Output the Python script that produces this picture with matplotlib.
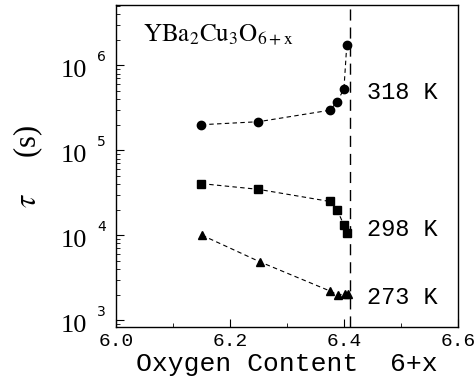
"""tau vs oxygen content for YBa2Cu3O6+x at three temperatures."""
import numpy as np
import matplotlib
matplotlib.use("Agg")
import matplotlib.pyplot as plt
from matplotlib.ticker import LogLocator, NullFormatter, MultipleLocator
import matplotlib.transforms as mtransforms

plt.rcParams["mathtext.fontset"] = "stix"

# 318 K (daireler)
x_318 = [6.15, 6.25, 6.375, 6.388, 6.40, 6.405]
tau_318 = [2.0e5, 2.17e5, 2.96e5, 3.7e5, 5.3e5, 1.75e6]
# 298 K (kareler)
x_298 = [6.15, 6.25, 6.375, 6.388, 6.40, 6.406]
tau_298 = [4.05e4, 3.47e4, 2.5e4, 2.0e4, 1.31e4, 1.05e4]
# 273 K (üçgenler)
x_273 = [6.151, 6.253, 6.376, 6.39, 6.402, 6.407]
tau_273 = [1.0e4, 4.85e3, 2.2e3, 1.97e3, 2.06e3, 2.05e3]

x_sinir = 6.41
etiketler = ["318 K", "298 K", "273 K"]
etiket_y = [4.8e5, 1.17e4, 1.86e3]
y_us = [3, 4, 5, 6]
x_ticks = [6.0, 6.2, 6.4, 6.6]

fig = plt.figure(figsize=(4.77, 3.85), dpi=100)
ax = fig.add_axes([0.2432, 0.1506, 0.7168, 0.8364])

for xs, ys, m in [(x_318, tau_318, "o"), (x_298, tau_298, "s"), (x_273, tau_273, "^")]:
    ax.plot(xs, ys, color="black", linestyle=(0, (4, 3)), linewidth=0.8,
            marker=m, markersize=6, markerfacecolor="black", markeredgecolor="black")

ax.axvline(x_sinir, color="black", linewidth=1.0, linestyle=(0, (8, 5)))

ax.set_yscale("log")
ax.set_xlim(6.0, 6.6)
ax.set_ylim(10 ** 2.92, 10 ** 6.71)

# Y ekseni: "10" + ayrı üs
ax.set_yticks([10.0 ** k for k in y_us])
ax.set_yticklabels(["10"] * len(y_us), family="Liberation Serif", fontsize=19)
for t in ax.get_yticklabels():
    t.set_va("top")
    t.set_y(0)
ax.yaxis.set_minor_locator(LogLocator(base=10, subs=np.arange(2, 10)))
ax.yaxis.set_minor_formatter(NullFormatter())
tr = mtransforms.blended_transform_factory(ax.transAxes, ax.transData)
for k in y_us:
    ax.text(-0.029, 10.0 ** (k + 0.02), str(k), transform=tr, ha="right", va="bottom",
            fontsize=10, family="DejaVu Sans")

ax.set_xticks(x_ticks)
ax.set_xticklabels([f"{v:.1f}" for v in x_ticks], family="Liberation Mono", fontsize=14)
ax.xaxis.set_minor_locator(MultipleLocator(0.1))

ax.tick_params(which="both", direction="in", top=False, right=False)
ax.tick_params(axis="y", which="major", length=6, pad=21)
ax.tick_params(axis="y", which="minor", length=3)
ax.tick_params(axis="x", which="major", length=6, pad=4)
ax.tick_params(axis="x", which="minor", length=3)
# "10" etiketleri işaretin biraz altında
for t in ax.yaxis.get_majorticklabels():
    t.set_verticalalignment("center")
    t.set_transform(t.get_transform() + mtransforms.ScaledTranslation(0, -4 / 72, fig.dpi_scale_trans))

for s in ax.spines.values():
    s.set_linewidth(1.0)

ax.set_xlabel("Oxygen Content  6+x", family="Liberation Mono", fontsize=19, labelpad=2)
ax.set_ylabel(r"$\tau$     (s)", family="Liberation Serif", fontsize=22)
ax.yaxis.set_label_coords(-0.207, 0.5)

ax.text(0.08, 0.907, r"$\mathrm{YBa_2Cu_3O_{6+x}}$", transform=ax.transAxes,
        fontsize=18, ha="left", va="center")

for lbl, yy in zip(etiketler, etiket_y):
    ax.text(6.44, yy, lbl, family="Liberation Mono", fontsize=17, ha="left", va="center")

fig.savefig("out.png", dpi=100)
